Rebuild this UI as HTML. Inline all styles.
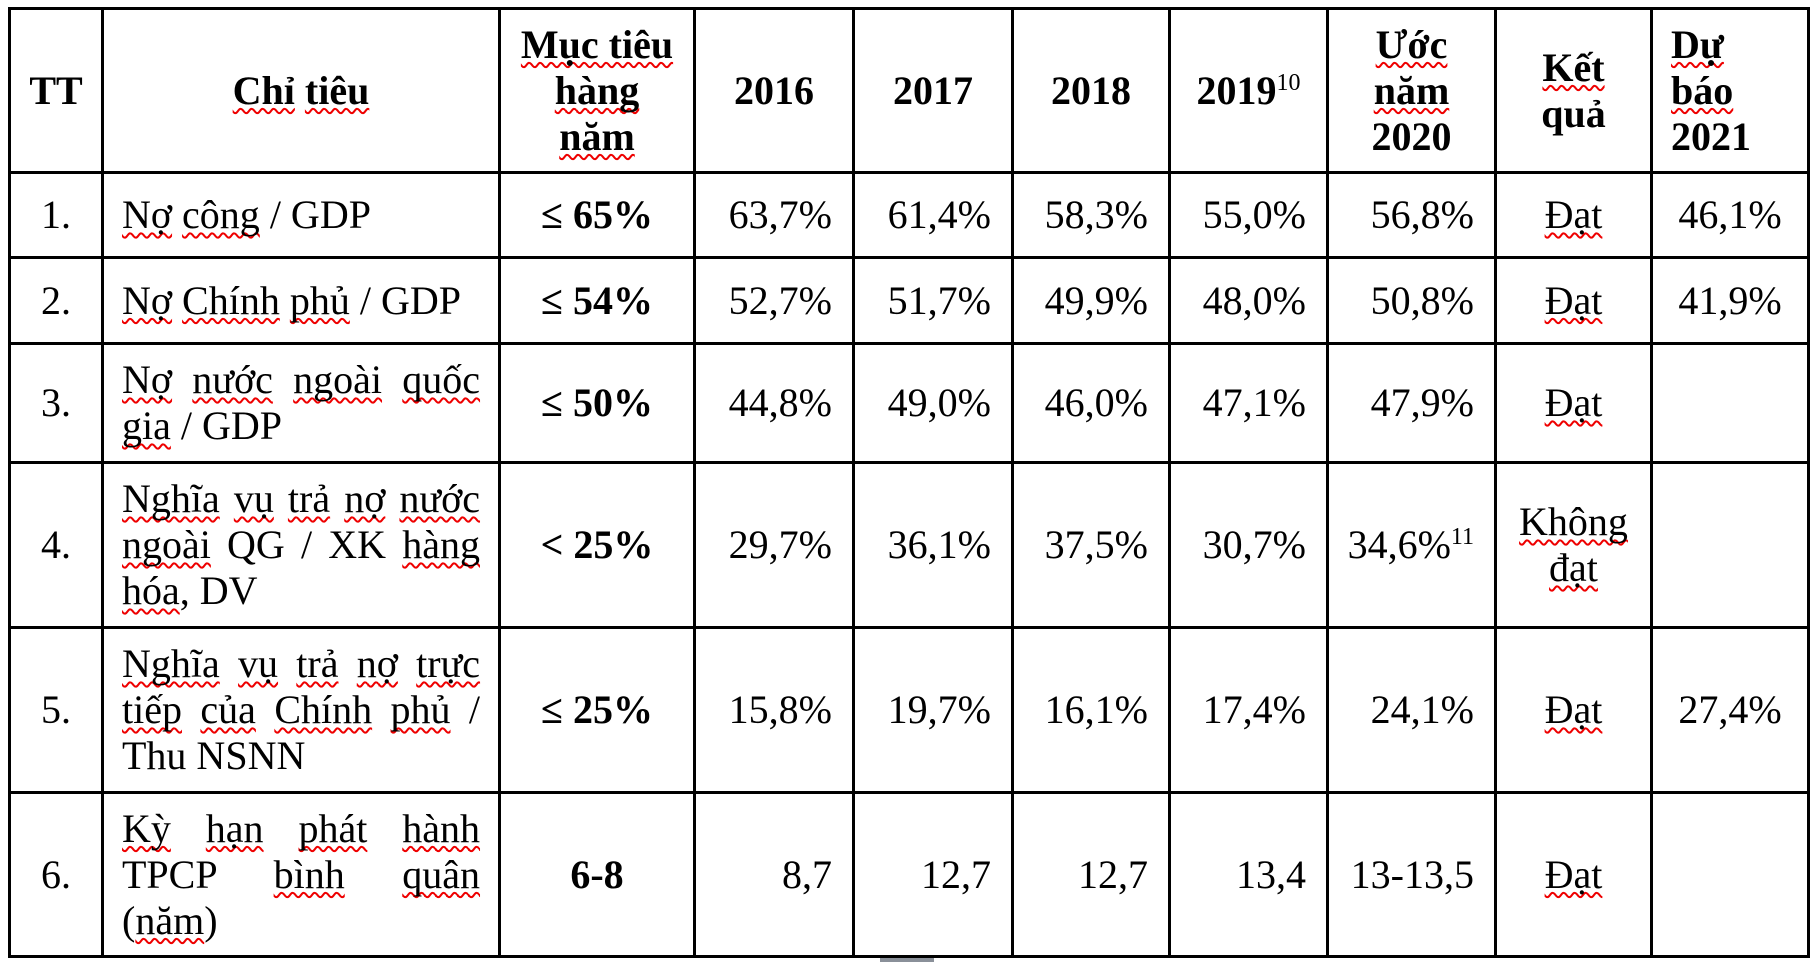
<!DOCTYPE html>
<html><head><meta charset="utf-8">
<style>
html,body{margin:0;padding:0;background:#fff;}
body{width:1812px;height:962px;position:relative;overflow:hidden;font-family:"Liberation Serif","DejaVu Serif",serif;font-size:40px;color:#000;}
.v{position:absolute;width:3px;background:#000;top:7px;height:951px;}
.h{position:absolute;height:3px;background:#000;left:8px;width:1802px;}
.c{position:absolute;display:flex;align-items:center;box-sizing:border-box;line-height:46px;}
.ce{justify-content:center;text-align:center;}
.r{justify-content:flex-end;padding-right:20px;}
.l{justify-content:flex-start;padding-left:18px;}
.b{font-weight:bold;}
.w{text-decoration:underline wavy #e00;text-decoration-thickness:2px;text-underline-offset:4px;text-decoration-skip-ink:none;}
.blk{width:100%;}
.j{text-align:justify;text-align-last:justify;}
sup{font-size:24px;font-weight:normal;vertical-align:14px;line-height:0;}
.t{padding:0 18px;}
</style></head><body>
<div class="v" style="left:8px"></div>
<div class="v" style="left:101px"></div>
<div class="v" style="left:498px"></div>
<div class="v" style="left:693px"></div>
<div class="v" style="left:852px"></div>
<div class="v" style="left:1011px"></div>
<div class="v" style="left:1168px"></div>
<div class="v" style="left:1326px"></div>
<div class="v" style="left:1494px"></div>
<div class="v" style="left:1650px"></div>
<div class="v" style="left:1807px"></div>
<div class="h" style="top:7px"></div>
<div class="h" style="top:171px"></div>
<div class="h" style="top:256px"></div>
<div class="h" style="top:342px"></div>
<div class="h" style="top:461px"></div>
<div class="h" style="top:626px"></div>
<div class="h" style="top:791px"></div>
<div class="h" style="top:955px"></div>

<div class="c ce b" style="left:11px;top:10px;width:90px;height:161px">TT</div>
<div class="c ce b" style="left:104px;top:10px;width:394px;height:161px"><span><span class="w">Chỉ</span> <span class="w">tiêu</span></span></div>
<div class="c ce b" style="left:501px;top:10px;width:192px;height:161px"><div><span class="w">Mục tiêu</span><br><span class="w">hàng</span><br><span class="w">năm</span></div></div>
<div class="c ce b" style="left:696px;top:10px;width:156px;height:161px">2016</div>
<div class="c ce b" style="left:855px;top:10px;width:156px;height:161px">2017</div>
<div class="c ce b" style="left:1014px;top:10px;width:154px;height:161px">2018</div>
<div class="c ce b" style="left:1171px;top:10px;width:155px;height:161px"><span>2019<sup>10</sup></span></div>
<div class="c ce b" style="left:1329px;top:10px;width:165px;height:161px"><div><span class="w">Ước</span><br><span class="w">năm</span><br>2020</div></div>
<div class="c ce b" style="left:1497px;top:10px;width:153px;height:161px"><div><span class="w">Kết</span><br>quả</div></div>
<div class="c l b" style="left:1653px;top:10px;width:154px;height:161px"><div><span class="w">Dự</span><br><span class="w">báo</span><br>2021</div></div>

<div class="c ce" style="left:11px;top:174px;width:90px;height:82px">1.</div>
<div class="c l" style="left:104px;top:174px;width:394px;height:82px"><span><span class="w">Nợ</span> <span class="w">công</span> / GDP</span></div>
<div class="c ce b" style="left:501px;top:174px;width:192px;height:82px">≤ 65%</div>
<div class="c r" style="left:696px;top:174px;width:156px;height:82px">63,7%</div>
<div class="c r" style="left:855px;top:174px;width:156px;height:82px">61,4%</div>
<div class="c r" style="left:1014px;top:174px;width:154px;height:82px">58,3%</div>
<div class="c r" style="left:1171px;top:174px;width:155px;height:82px">55,0%</div>
<div class="c r" style="left:1329px;top:174px;width:165px;height:82px">56,8%</div>
<div class="c ce" style="left:1497px;top:174px;width:153px;height:82px"><span class="w">Đạt</span></div>
<div class="c ce" style="left:1653px;top:174px;width:154px;height:82px">46,1%</div>

<div class="c ce" style="left:11px;top:259px;width:90px;height:83px">2.</div>
<div class="c l" style="left:104px;top:259px;width:394px;height:83px"><span><span class="w">Nợ</span> <span class="w">Chính</span> <span class="w">phủ</span> / GDP</span></div>
<div class="c ce b" style="left:501px;top:259px;width:192px;height:83px">≤ 54%</div>
<div class="c r" style="left:696px;top:259px;width:156px;height:83px">52,7%</div>
<div class="c r" style="left:855px;top:259px;width:156px;height:83px">51,7%</div>
<div class="c r" style="left:1014px;top:259px;width:154px;height:83px">49,9%</div>
<div class="c r" style="left:1171px;top:259px;width:155px;height:83px">48,0%</div>
<div class="c r" style="left:1329px;top:259px;width:165px;height:83px">50,8%</div>
<div class="c ce" style="left:1497px;top:259px;width:153px;height:83px"><span class="w">Đạt</span></div>
<div class="c ce" style="left:1653px;top:259px;width:154px;height:83px">41,9%</div>

<div class="c ce" style="left:11px;top:345px;width:90px;height:116px">3.</div>
<div class="c t" style="left:104px;top:345px;width:394px;height:116px"><div class="blk"><div class="j"><span class="w">Nợ</span> <span class="w">nước</span> <span class="w">ngoài</span> <span class="w">quốc</span></div><div><span class="w">gia</span> / GDP</div></div></div>
<div class="c ce b" style="left:501px;top:345px;width:192px;height:116px">≤ 50%</div>
<div class="c r" style="left:696px;top:345px;width:156px;height:116px">44,8%</div>
<div class="c r" style="left:855px;top:345px;width:156px;height:116px">49,0%</div>
<div class="c r" style="left:1014px;top:345px;width:154px;height:116px">46,0%</div>
<div class="c r" style="left:1171px;top:345px;width:155px;height:116px">47,1%</div>
<div class="c r" style="left:1329px;top:345px;width:165px;height:116px">47,9%</div>
<div class="c ce" style="left:1497px;top:345px;width:153px;height:116px"><span class="w">Đạt</span></div>

<div class="c ce" style="left:11px;top:464px;width:90px;height:162px">4.</div>
<div class="c t" style="left:104px;top:464px;width:394px;height:162px"><div class="blk"><div class="j"><span class="w">Nghĩa</span> <span class="w">vụ</span> <span class="w">trả</span> <span class="w">nợ</span> <span class="w">nước</span></div><div class="j"><span class="w">ngoài</span> QG / XK <span class="w">hàng</span></div><div><span class="w">hóa</span>, DV</div></div></div>
<div class="c ce b" style="left:501px;top:464px;width:192px;height:162px">&lt; 25%</div>
<div class="c r" style="left:696px;top:464px;width:156px;height:162px">29,7%</div>
<div class="c r" style="left:855px;top:464px;width:156px;height:162px">36,1%</div>
<div class="c r" style="left:1014px;top:464px;width:154px;height:162px">37,5%</div>
<div class="c r" style="left:1171px;top:464px;width:155px;height:162px">30,7%</div>
<div class="c r" style="left:1329px;top:464px;width:165px;height:162px"><span>34,6%<sup>11</sup></span></div>
<div class="c ce" style="left:1497px;top:464px;width:153px;height:162px"><div><span class="w">Không</span><br><span class="w">đạt</span></div></div>

<div class="c ce" style="left:11px;top:629px;width:90px;height:162px">5.</div>
<div class="c t" style="left:104px;top:629px;width:394px;height:162px"><div class="blk"><div class="j"><span class="w">Nghĩa</span> <span class="w">vụ</span> <span class="w">trả</span> <span class="w">nợ</span> <span class="w">trực</span></div><div class="j"><span class="w">tiếp</span> <span class="w">của</span> <span class="w">Chính</span> <span class="w">phủ</span> /</div><div>Thu NSNN</div></div></div>
<div class="c ce b" style="left:501px;top:629px;width:192px;height:162px">≤ 25%</div>
<div class="c r" style="left:696px;top:629px;width:156px;height:162px">15,8%</div>
<div class="c r" style="left:855px;top:629px;width:156px;height:162px">19,7%</div>
<div class="c r" style="left:1014px;top:629px;width:154px;height:162px">16,1%</div>
<div class="c r" style="left:1171px;top:629px;width:155px;height:162px">17,4%</div>
<div class="c r" style="left:1329px;top:629px;width:165px;height:162px">24,1%</div>
<div class="c ce" style="left:1497px;top:629px;width:153px;height:162px"><span class="w">Đạt</span></div>
<div class="c ce" style="left:1653px;top:629px;width:154px;height:162px">27,4%</div>

<div class="c ce" style="left:11px;top:794px;width:90px;height:161px">6.</div>
<div class="c t" style="left:104px;top:794px;width:394px;height:161px"><div class="blk"><div class="j"><span class="w">Kỳ</span> <span class="w">hạn</span> <span class="w">phát</span> <span class="w">hành</span></div><div class="j">TPCP <span class="w">bình</span> <span class="w">quân</span></div><div>(<span class="w">năm</span>)</div></div></div>
<div class="c ce b" style="left:501px;top:794px;width:192px;height:161px">6-8</div>
<div class="c r" style="left:696px;top:794px;width:156px;height:161px">8,7</div>
<div class="c r" style="left:855px;top:794px;width:156px;height:161px">12,7</div>
<div class="c r" style="left:1014px;top:794px;width:154px;height:161px">12,7</div>
<div class="c r" style="left:1171px;top:794px;width:155px;height:161px">13,4</div>
<div class="c r" style="left:1329px;top:794px;width:165px;height:161px">13-13,5</div>
<div class="c ce" style="left:1497px;top:794px;width:153px;height:161px"><span class="w">Đạt</span></div>

<div style="position:absolute;left:880px;top:958px;width:54px;height:4px;background:#8a9099"></div>
</body></html>
